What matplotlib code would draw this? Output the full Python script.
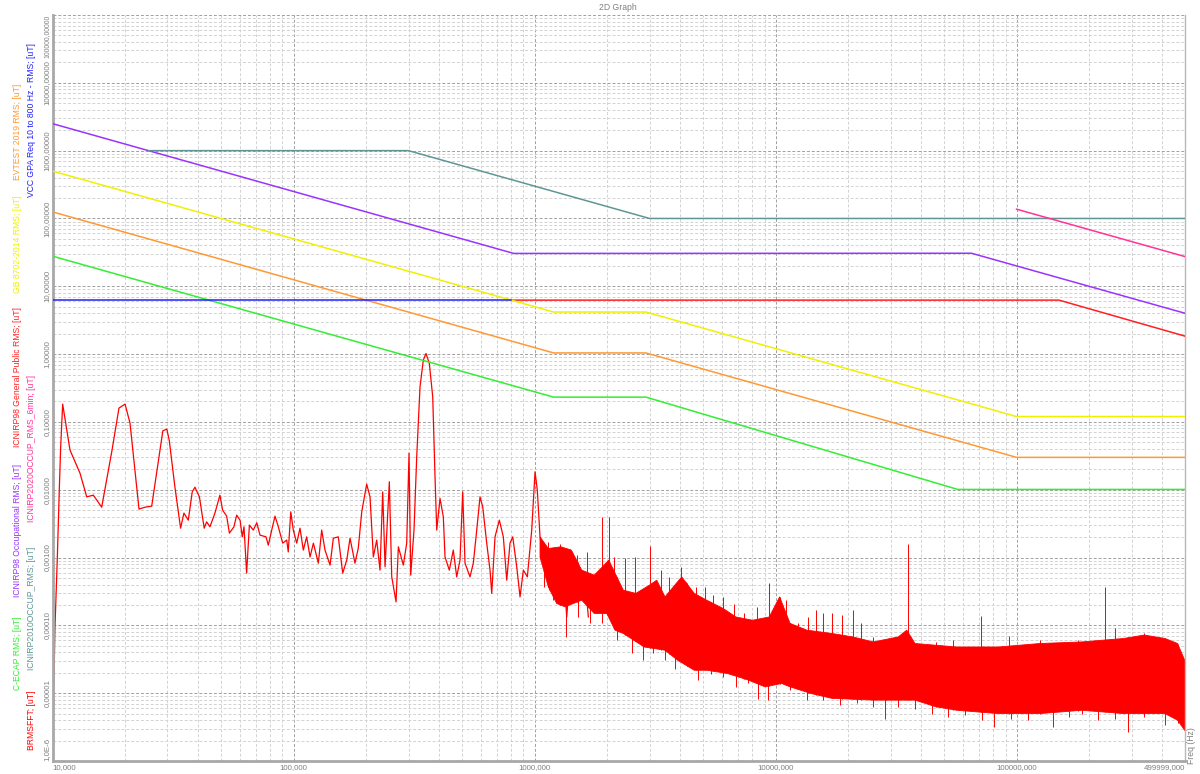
import numpy as np
import matplotlib
matplotlib.use('Agg')
import matplotlib.pyplot as plt
from matplotlib.ticker import LogLocator, NullFormatter

# espectro medido BRMSFFT (parte de baja frecuencia, leida punto a punto)
frecBaja = [10.0, 10.08, 10.24, 10.47, 10.67, 10.81, 11.02, 11.82, 13.0, 13.87,
            14.77, 16.0, 17.61, 18.87, 20.0, 20.97, 22.85, 24.2, 25.8, 28.7,
            29.8, 30.5, 32.2, 34.0, 35.1, 36.6, 38.0, 39.0, 40.7, 42.6,
            43.6, 45.0, 47.2, 49.5, 50.8, 52.8, 54.2, 56.6, 58.1, 60.0,
            61.3, 62.3, 63.9, 65.6, 68.1, 70.4, 72.6, 76.9, 78.6, 81.2,
            83.8, 86.5, 90.2, 93.7, 95.1, 97.4, 99.8, 103.1, 106.4, 109.8,
            113.4, 117.1, 120.9, 126.8, 130.9, 135.1, 141.8, 146.3, 153.4, 160.0,
            166.3, 171.6, 179.9, 185.7, 191.9, 201.2, 207.7, 214.4, 221.4, 228.5,
            234.5, 239.8, 249.8, 255.6, 266.3, 272.3, 285.5, 294.9, 301.5, 306.4,
            316.2, 324.5, 334.9, 345.6, 354.6, 366.0, 378.1, 386.5, 392.9, 405.4,
            418.4, 425.2, 443.1, 460.3, 475.5, 490.7, 503.5, 514.7, 539.9, 557.2,
            575.7, 594.1, 609.6, 633.4, 653.7, 664.4, 685.7, 714.5, 742.3, 766.8,
            791.3, 812.1, 843.7, 870.8, 898.7, 933.7, 973.6, 1005, 1027, 1054,
            1088, 1124, 1160, 1197, 1236, 1276, 1326, 1360, 1427, 1497,
            1545, 1620, 1672]
valBaja = [1.0e-6, 5.1e-6, 9.4e-5, 9.8e-4, 0.0099, 0.0425, 0.183, 0.0384, 0.0176, 0.00785,
           0.00832, 0.00553, 0.0362, 0.16, 0.183, 0.096, 0.00518, 0.00553, 0.00573, 0.074,
           0.0783, 0.0539, 0.011, 0.00271, 0.00452, 0.00356, 0.0093, 0.0109, 0.00785, 0.00271,
           0.00336, 0.00284, 0.00452, 0.00832, 0.005, 0.00408, 0.00229, 0.00284, 0.00422, 0.00356,
           0.00202, 0.00284, 0.000589, 0.00301, 0.00254, 0.00325, 0.00214, 0.00202, 0.00152, 0.00254,
           0.00408, 0.00284, 0.00163, 0.00181, 0.00121, 0.00472, 0.00254, 0.00163, 0.00271, 0.00129,
           0.00202, 0.00102, 0.00163, 0.000826, 0.00254, 0.00129, 0.000773, 0.00193, 0.00202, 0.000589,
           0.000916, 0.00193, 0.000826, 0.00138, 0.00472, 0.0121, 0.00785, 0.00102, 0.00181, 0.000652,
           0.0093, 0.00073, 0.0131, 0.000519, 0.000222, 0.00144, 0.000773, 0.00163, 0.0347, 0.00055,
           0.00254, 0.0306, 0.33, 0.816, 1.02, 0.729, 0.235, 0.0155, 0.00254, 0.00744,
           0.00398, 0.00102, 0.000652, 0.00129, 0.000519, 0.000916, 0.0093, 0.000826, 0.000519, 0.000826,
           0.00254, 0.00785, 0.0056, 0.00163, 0.000652, 0.000296, 0.00202, 0.00356, 0.00202, 0.000464,
           0.00163, 0.00202, 0.00073, 0.000263, 0.000652, 0.000519, 0.00254, 0.0184, 0.00986, 0.00202,
           0.00102, 0.000652, 0.00033, 0.000583, 0.000415, 0.000263, 0.000519, 0.000133, 0.00121, 0.000652,
           0.00033, 0.000519, 0.000133]

# parte densa del espectro: borde de arriba y borde de abajo
frecArriba = [1054, 1141, 1286, 1421, 1570, 1769, 1915, 2033, 2336, 2633,
              3026, 3214, 3479, 4081, 4600, 5183, 6073, 6843, 8028, 9418,
              10400, 11490, 13480, 17110, 20870, 25460, 32330, 35030, 37910, 56490,
              84040, 125200, 186400, 277500, 338800, 413300, 465600, 500000]
valArriba = [0.00202, 0.00136, 0.00144, 0.00129, 0.000652, 0.00055, 0.00073, 0.000916, 0.00033, 0.000296,
             0.0004, 0.000464, 0.000263, 0.000519, 0.000296, 0.000235, 0.000177, 0.000133, 0.000119, 0.000133,
             0.000263, 0.000107, 8.5e-5, 7.6e-5, 6.76e-5, 5.7e-5, 6.76e-5, 8.5e-5, 5.4e-5, 4.8e-5,
             4.8e-5, 5.4e-5, 5.7e-5, 6.4e-5, 7.2e-5, 6.4e-5, 5.4e-5, 3.0e-5]
frecAbajo = [1054, 1141, 1236, 1338, 1570, 1769, 1994, 2158, 2336, 2852,
             3479, 3921, 4600, 5183, 6321, 7716, 9045, 10610, 11490, 14020,
             17110, 25460, 37910, 46270, 56490, 84040, 125200, 186400, 277500, 413300,
             465600, 500000]
valAbajo = [0.00102, 0.00037, 0.00021, 0.000188, 0.000235, 0.00015, 0.00015, 8.5e-5, 7.6e-5, 4.8e-5,
            4.3e-5, 3.07e-5, 2.18e-5, 2.18e-5, 1.95e-5, 1.56e-5, 1.24e-5, 1.39e-5, 1.24e-5, 9.9e-6,
            8.4e-6, 7.9e-6, 7.9e-6, 6.3e-6, 5.6e-6, 5.0e-6, 5.0e-6, 5.6e-6, 5.0e-6, 5.0e-6,
            4.0e-6, 2.8e-6]

# picos que salen por arriba de la banda (frecuencia, valor maximo)
frecPicosArriba = [1141, 1211, 1276, 1496, 1653, 1900, 2033, 2141, 2384, 2612,
                   3027, 3344, 3622, 4048, 4280, 4690, 5078, 5500, 6074, 6711,
                   7413, 8353, 9413, 10400, 11040, 12440, 13630, 14700, 15790, 17100,
                   18890, 20870, 22610, 25470, 28700, 35290, 46270, 54250, 71120, 92880,
                   125200, 179100, 232900, 256300, 338700]
valPicosArriba = [0.00171, 0.00144, 0.00161, 0.00108, 0.00121, 0.00399, 0.00399, 0.00103, 0.00097, 0.00103,
                  0.00147, 0.000652, 0.00052, 0.00073, 0.000415, 0.00037, 0.00037, 0.000279, 0.000264, 0.00021,
                  0.00015, 0.000188, 0.000415, 0.000264, 0.000236, 0.000107, 0.000134, 0.000168, 0.00015, 0.00015,
                  0.000141, 0.000168, 0.000107, 6.8e-5, 6.05e-5, 0.00158, 5.7e-5, 6.05e-5, 0.000137, 6.9e-5,
                  6.05e-5, 6.05e-5, 0.00037, 9.0e-5, 7.6e-5]
# picos que salen por abajo de la banda (frecuencia, valor minimo)
frecPicosAbajo = [1097, 1188, 1349, 1508, 1699, 1914, 2202, 2530, 2818, 3087,
                  3479, 3844, 4246, 4784, 5392, 6074, 6845, 7716, 8453, 9337,
                  11490, 13470, 15790, 18520, 21720, 25470, 28470, 32330, 37920, 44460,
                  52130, 61130, 71710, 80800, 94730, 111100, 141100, 165400, 186400, 218600,
                  256300, 288800, 338700, 413300, 465600]
valPicosAbajo = [0.00037, 0.000236, 6.8e-5, 0.000134, 0.000107, 0.000107, 6.05e-5, 3.85e-5, 3.07e-5, 3.85e-5,
                 3.07e-5, 2.31e-5, 2.74e-5, 1.56e-5, 1.95e-5, 1.74e-5, 1.24e-5, 1.39e-5, 8.3e-6, 7.9e-6,
                 1.11e-5, 7.9e-6, 7.9e-6, 6.65e-6, 7.05e-6, 6.3e-6, 4.2e-6, 6.3e-6, 5.9e-6, 5.0e-6,
                 4.5e-6, 4.7e-6, 4.0e-6, 3.2e-6, 4.2e-6, 4.0e-6, 3.2e-6, 4.5e-6, 5.0e-6, 4.0e-6,
                 4.2e-6, 2.7e-6, 4.5e-6, 3.4e-6, 3.6e-6]

# limites
frecEcap = [10, 1200, 2900, 57000, 500000]
valEcap = [27.8, 0.232, 0.232, 0.0101, 0.0101]
frecOcup98 = [10, 820, 65000, 500000]
valOcup98 = [2500, 30.5, 30.7, 4.0]
frecPublico98 = [800, 150000, 500000]
valPublico98 = [6.25, 6.25, 1.84]
frecGB = [10, 1200, 2900, 100000, 500000]
valGB = [500, 4.17, 4.17, 0.12, 0.12]
frecEvtest = [10, 1200, 2900, 100000, 500000]
valEvtest = [125, 1.04, 1.04, 0.03, 0.03]
frecOcup2010 = [25, 300, 3000, 500000]
valOcup2010 = [1000, 1000, 100, 100]
frecOcup2020 = [100000, 500000]
valOcup2020 = [137, 27.4]
frecVcc = [10, 800]
valVcc = [6.25, 6.25]

ticksX = [10, 100, 1000, 10000, 100000, 499999]
etiquetasX = ['10,000', '100,000', '1000,000', '10000,000', '100000,000', '499999,000']
ticksY = [1e-6, 1e-5, 1e-4, 1e-3, 1e-2, 1e-1, 1, 10, 100, 1000, 1e4, 1e5]
etiquetasY = ['1,0E-6', '0,00001', '0,00010', '0,00100', '0,01000', '0,10000', '1,00000',
              '10,00000', '100,00000', '1000,00000', '10000,00000', '100000,00000']

# textos de la izquierda: (texto, color, x en px, borde de abajo en px)
leyenda = [
    ('BRMSFFT; [uT]', '#ff0000', 32, 750),
    ('C-ECAP RMS; [uT]', '#33ee33', 18, 690),
    ('ICNIRP2010OCCUP_RMS; [uT]', '#5f9595', 32, 670),
    ('ICNIRP98 Occupational RMS; [uT]', '#9933ff', 18, 597),
    ('ICNIRP2020OCCUP_RMS_6min; [uT]', '#ff3399', 32, 522),
    ('ICNIRP98 General Public RMS; [uT]', '#ff2020', 18, 447),
    ('GB 8702-2014 RMS; [uT]', '#f0f000', 18, 293),
    ('EVTEST 2019 RMS; [uT]', '#ff9933', 18, 180),
    ('VCC GPA Req 10 to 800 Hz - RMS; [uT]', '#2020ff', 32, 197),
]

plt.rcParams['font.family'] = ['Liberation Sans', 'DejaVu Sans']
gris = '#808080'
rojo = '#ff0000'

fig = plt.figure(figsize=(12, 7.74), dpi=100)
ax = fig.add_axes([52.5 / 1200, 13 / 774, (1185 - 52.5) / 1200, (761 - 15) / 774])
ax.set_xscale('log')
ax.set_yscale('log')

# espectro: banda densa + picos + parte de baja frecuencia
ax.fill(frecArriba + frecAbajo[::-1], valArriba + valAbajo[::-1], color=rojo, lw=0.6, zorder=2)
# los picos arrancan dentro de la banda (borde contrario)
baseArriba = 10 ** np.interp(np.log10(frecPicosArriba), np.log10(frecAbajo), np.log10(valAbajo))
baseAbajo = 10 ** np.interp(np.log10(frecPicosAbajo), np.log10(frecArriba), np.log10(valArriba))
ax.vlines(frecPicosArriba, baseArriba, valPicosArriba, color=rojo, lw=0.7, zorder=2)
ax.vlines(frecPicosAbajo, valPicosAbajo, baseAbajo, color=rojo, lw=0.7, zorder=2)
ax.plot(frecBaja, valBaja, color=rojo, lw=0.9, zorder=2)

# curvas limite
ax.plot(frecEcap, valEcap, color='#33ee33', lw=1.1, zorder=3)
ax.plot(frecOcup98, valOcup98, color='#9933ff', lw=1.1, zorder=3)
ax.plot(frecPublico98, valPublico98, color='#ff2020', lw=1.1, zorder=3)
ax.plot(frecGB, valGB, color='#f0f000', lw=1.1, zorder=3)
ax.plot(frecEvtest, valEvtest, color='#ff9933', lw=1.1, zorder=3)
ax.plot(frecOcup2010, valOcup2010, color='#5f9595', lw=1.1, zorder=3)
ax.plot(frecOcup2020, valOcup2020, color='#ff3399', lw=1.1, zorder=3)
ax.plot(frecVcc, valVcc, color='#2020ff', lw=1.1, zorder=3)

ax.set_xlim(10, 500000)
ax.set_ylim(1e-6, 1e5)

ax.xaxis.set_minor_locator(LogLocator(base=10, subs=np.arange(2, 10), numticks=100))
ax.yaxis.set_minor_locator(LogLocator(base=10, subs=np.arange(2, 10), numticks=100))
ax.xaxis.set_minor_formatter(NullFormatter())
ax.yaxis.set_minor_formatter(NullFormatter())
ax.set_xticks(ticksX, etiquetasX)
ax.set_yticks(ticksY, etiquetasY)
ax.tick_params(which='both', length=0, labelsize=5.7, labelcolor=gris)
ax.tick_params(axis='x', pad=2)
ax.tick_params(axis='y', pad=1.5)

etX = ax.get_xticklabels()
etX[0].set_ha('left')
etX[-1].set_ha('right')
for et in ax.get_yticklabels():
    et.set_rotation(90)
    et.set_va('center')
etY = ax.get_yticklabels()
etY[0].set_va('bottom')
etY[-1].set_va('top')
etY[-1].set_fontsize(4.9)

ax.grid(which='major', color='#a0a0a0', ls=(0, (3, 2)), lw=0.7, zorder=0)
ax.grid(which='minor', color='#d2d2d2', ls=(0, (3, 2)), lw=0.7, zorder=0)
ax.set_axisbelow(True)

ax.spines['top'].set_visible(False)
ax.spines['left'].set_color('#a8a8a8')
ax.spines['left'].set_linewidth(2)
ax.spines['bottom'].set_color('#a8a8a8')
ax.spines['bottom'].set_linewidth(2)
ax.spines['right'].set_color('#b8b8b8')
ax.spines['right'].set_linewidth(1)

fig.text(618 / 1200, 1 - 8 / 774, '2D Graph', ha='center', va='center', color=gris, fontsize=6.2)
fig.text(1192 / 1200, 1 - 764 / 774, 'Freq (Hz)', rotation=90, ha='center', va='bottom', color=gris, fontsize=6.2)

for texto, color, xpx, ypx in leyenda:
    fig.text(xpx / 1200, 1 - ypx / 774, texto, rotation=90, ha='center', va='bottom', color=color, fontsize=6.2)

fig.savefig('out.png', dpi=100)
